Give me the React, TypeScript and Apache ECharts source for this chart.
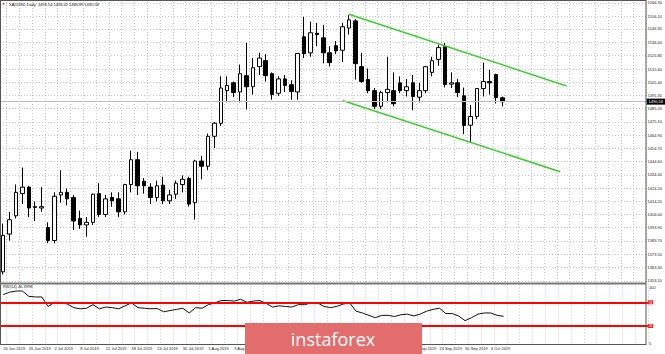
import React, { useEffect, useRef } from "react";
import * as echarts from "echarts";

const dates = [
  "20 Jun 2019", "21 Jun 2019", "24 Jun 2019", "25 Jun 2019", "26 Jun 2019", "27 Jun 2019", "28 Jun 2019",
  "1 Jul 2019", "2 Jul 2019", "3 Jul 2019", "4 Jul 2019", "5 Jul 2019", "8 Jul 2019", "9 Jul 2019",
  "10 Jul 2019", "11 Jul 2019", "12 Jul 2019", "15 Jul 2019", "16 Jul 2019", "17 Jul 2019", "18 Jul 2019",
  "19 Jul 2019", "22 Jul 2019", "23 Jul 2019", "24 Jul 2019", "25 Jul 2019", "26 Jul 2019", "29 Jul 2019",
  "30 Jul 2019", "31 Jul 2019", "1 Aug 2019", "2 Aug 2019", "5 Aug 2019", "6 Aug 2019", "7 Aug 2019",
  "8 Aug 2019", "9 Aug 2019", "12 Aug 2019", "13 Aug 2019", "14 Aug 2019", "15 Aug 2019", "16 Aug 2019",
  "19 Aug 2019", "20 Aug 2019", "21 Aug 2019", "22 Aug 2019", "23 Aug 2019", "26 Aug 2019", "27 Aug 2019",
  "28 Aug 2019", "29 Aug 2019", "30 Aug 2019", "2 Sep 2019", "3 Sep 2019", "4 Sep 2019", "5 Sep 2019",
  "6 Sep 2019", "9 Sep 2019", "10 Sep 2019", "11 Sep 2019", "12 Sep 2019", "13 Sep 2019", "16 Sep 2019",
  "17 Sep 2019", "18 Sep 2019", "19 Sep 2019", "20 Sep 2019", "23 Sep 2019", "24 Sep 2019", "25 Sep 2019",
  "26 Sep 2019", "27 Sep 2019", "30 Sep 2019", "1 Oct 2019", "2 Oct 2019", "3 Oct 2019", "4 Oct 2019",
  "7 Oct 2019", "8 Oct 2019",
];

const opens = [
  1360, 1389, 1403, 1420, 1425, 1410, 1409, 1394, 1384, 1419,
  1421, 1417, 1401, 1396, 1398, 1420, 1404, 1417, 1416, 1406,
  1427, 1446, 1429.5, 1425, 1417, 1426.5, 1414.5, 1419.6, 1427, 1431.7,
  1413, 1445, 1441, 1464, 1474, 1499, 1505, 1498, 1510.5, 1502,
  1517.4, 1522, 1512, 1497, 1508, 1503.6, 1498, 1540.3, 1528, 1543,
  1539.5, 1528, 1533.5, 1530, 1547, 1552.5, 1517.4, 1507.5, 1499, 1487,
  1497.6, 1499, 1505, 1499, 1505, 1494, 1499, 1513, 1523, 1532.7,
  1504, 1505, 1495, 1472.5, 1479.2, 1500.6, 1506, 1511.3, 1493.54,
];
const closes = [
  1388, 1400, 1421, 1425, 1409, 1409.5, 1410, 1384, 1418, 1421,
  1416, 1399, 1396, 1398, 1419.6, 1404, 1416, 1414.5, 1406, 1427,
  1446, 1426, 1426, 1417, 1426, 1414.5, 1419, 1428, 1431, 1412,
  1445, 1441, 1464, 1474, 1501, 1503, 1497.5, 1512, 1502, 1516.6,
  1524, 1510.5, 1496, 1508, 1503, 1498.3, 1527.5, 1527.3, 1543.4, 1542,
  1528, 1520.5, 1529.5, 1548, 1553.3, 1519.7, 1506, 1499, 1487, 1497.6,
  1500, 1489, 1499, 1502, 1494.5, 1499, 1517.4, 1522, 1532, 1503.7,
  1505, 1497.5, 1472.3, 1479.2, 1500.6, 1506, 1505, 1493.7, 1490.58,
];
const lows = [
  1358, 1384, 1401, 1412, 1402, 1399, 1406, 1382, 1382, 1413,
  1411, 1392, 1393, 1387, 1396, 1402, 1402, 1410, 1402, 1404,
  1421, 1419, 1420, 1412, 1414, 1412, 1412, 1416, 1421, 1410,
  1400, 1431, 1438, 1455, 1472, 1490, 1494, 1490, 1484.5, 1496,
  1511, 1506, 1492, 1495, 1498, 1492, 1492, 1524, 1525, 1533,
  1520, 1517.5, 1527, 1521, 1542, 1507.5, 1505, 1497, 1485, 1485,
  1490, 1487, 1497, 1494.5, 1484, 1490, 1497, 1510, 1518, 1501.4,
  1501, 1494, 1465.6, 1459.5, 1477, 1494.5, 1496, 1489.2, 1486.89,
];
const highs = [
  1397, 1406, 1427, 1440, 1426, 1414, 1425, 1398, 1421, 1438,
  1424, 1419, 1407, 1402, 1420, 1428, 1419, 1421, 1421, 1427.5,
  1453, 1452, 1432, 1428, 1430, 1433, 1423, 1430, 1434, 1433,
  1446, 1449, 1466, 1475, 1510, 1510, 1506, 1519, 1535.7, 1524,
  1528, 1527, 1513, 1510, 1511, 1507, 1528, 1555.6, 1552, 1551,
  1549.5, 1533, 1537, 1551, 1557, 1554, 1528, 1516, 1501, 1499,
  1525, 1513, 1510, 1508, 1511, 1505, 1518, 1525, 1534.2, 1535.5,
  1513, 1508, 1501.4, 1488, 1501, 1520.5, 1515, 1512, 1494.42,
];

const rsiValues = [
  83, 87, 89, 89, 80, 79, 79, 63, 70, 70,
  67, 61, 59, 60, 66, 59, 62, 61, 59, 64,
  69, 61, 60, 59, 59.5, 54, 56, 58, 60, 52,
  61, 60, 66, 69, 73, 73, 72, 75, 70, 72,
  73, 68, 62, 64, 63, 62, 66, 66, 69, 69,
  63, 61, 63, 67, 69, 55, 52, 48, 44, 48,
  48, 46, 49, 50, 47, 50, 55, 58, 60, 51,
  51, 47, 39, 44, 50, 52, 52, 48, 46.4,
];

const priceTicks = [
  1566.3, 1556.1, 1546.3, 1536.0, 1525.8, 1515.6, 1505.4, 1495.3, 1485.2, 1475.1, 1464.9,
  1454.7, 1444.6, 1434.4, 1424.2, 1414.2, 1404.0, 1393.9, 1383.7, 1373.5, 1363.3, 1353.1,
];
const rsiTicks = [0, 100];
const rsiLevels = [70, 30];
const channelUpper = [[54, 1557.6], [88, 1502.6]];
const channelLower = [[53, 1491.5], [87, 1436.8]];
const lastPrice = 1490.58;
const futureSlots = 22;
// date labels that sit entirely under the logo (not visible in the reference)
const hiddenLabelFrom = 40;
const hiddenLabelTo = 60;
const titleText = "XAUUSD,Daily  1493.54 1494.42 1486.89 1490.58";
const rsiTitle = "RSI(14) 46.3998";

export default function App() {
  const ref = useRef<HTMLDivElement>(null);

  useEffect(() => {
    if (!ref.current) return;
    const chart = echarts.init(ref.current, undefined, { renderer: "svg" });
    const cats = [...dates, ...Array.from({ length: futureSlots }, (_, k) => `f${k + 1}`)];
    const font = "Liberation Sans";
    const gridLineStyle = { color: "#c4c4c4", type: [1, 2] as number[], width: 1 };
    const gridLeft = -1.6;
    const gridWidth = 649.5;

    const option: any = {
      animation: false,
      backgroundColor: "#ffffff",
      grid: [
        { left: gridLeft, top: 2, width: gridWidth, height: 281 },
        { left: gridLeft, top: 284.5, width: gridWidth, height: 59.3 },
      ],
      xAxis: [
        {
          type: "category",
          gridIndex: 0,
          data: cats,
          boundaryGap: true,
          axisLine: { show: false },
          axisTick: { show: false },
          axisLabel: { show: false },
          splitLine: { show: true, interval: (i: number) => i % 2 === 1, lineStyle: gridLineStyle },
        },
        {
          type: "category",
          gridIndex: 1,
          data: cats,
          boundaryGap: true,
          axisLine: { show: false },
          axisTick: { show: false },
          axisLabel: {
            show: true,
            interval: (i: number) =>
              i % 4 === 0 && i < dates.length && (i < hiddenLabelFrom || i > hiddenLabelTo),
            align: "left",
            fontSize: 4,
            fontFamily: font,
            color: "#222",
            margin: 3,
          },
          splitLine: { show: true, interval: (i: number) => i % 2 === 1, lineStyle: gridLineStyle },
        },
      ],
      yAxis: [
        {
          type: "value",
          gridIndex: 0,
          position: "right",
          min: 1351.45,
          max: 1567.0,
          axisLine: { show: false },
          axisTick: { show: false, customValues: priceTicks },
          axisLabel: {
            customValues: priceTicks,
            formatter: (v: number) => v.toFixed(2),
            fontSize: 4,
            fontFamily: font,
            color: "#222",
            margin: 1,
          },
          splitLine: { show: true, lineStyle: gridLineStyle },
        },
        {
          type: "value",
          gridIndex: 1,
          position: "right",
          min: 0,
          max: 100,
          axisLine: { show: false },
          axisTick: { show: false, customValues: rsiTicks },
          axisLabel: {
            customValues: rsiTicks,
            formatter: (v: number) => (v === 100 ? "{t|100}" : "{b|0}"),
            rich: {
              t: { fontSize: 4, fontFamily: font, color: "#222", padding: [5, 0, 0, 0] },
              b: { fontSize: 4, fontFamily: font, color: "#222", padding: [0, 0, 1, 0] },
            },
            margin: 1,
          },
          splitLine: { show: false },
        },
      ],
      series: [
        {
          type: "candlestick",
          xAxisIndex: 0,
          yAxisIndex: 0,
          barWidth: 4,
          data: opens.map((o, i) => [o, closes[i], lows[i], highs[i]]),
          itemStyle: {
            color: "#ffffff",
            color0: "#000000",
            borderColor: "#000000",
            borderColor0: "#000000",
            borderWidth: 1,
          },
          markLine: {
            silent: true,
            symbol: ["none", "none"],
            data: [{ yAxis: lastPrice }],
            lineStyle: { color: "#bdbdbd", width: 1, type: "solid" },
            label: {
              show: true,
              position: "end",
              formatter: lastPrice.toFixed(2),
              backgroundColor: "#000",
              color: "#fff",
              fontSize: 4,
              fontFamily: font,
              padding: [1, 2],
              distance: 0,
            },
          },
        },
        {
          type: "line",
          xAxisIndex: 0,
          yAxisIndex: 0,
          data: channelUpper,
          symbol: "none",
          lineStyle: { color: "#3ccc32", width: 1.5 },
        },
        {
          type: "line",
          xAxisIndex: 0,
          yAxisIndex: 0,
          data: channelLower,
          symbol: "none",
          lineStyle: { color: "#3ccc32", width: 1.5 },
        },
        {
          type: "line",
          xAxisIndex: 1,
          yAxisIndex: 1,
          data: rsiValues,
          symbol: "none",
          lineStyle: { color: "#111", width: 1 },
          markLine: {
            silent: true,
            symbol: ["none", "none"],
            data: rsiLevels.map((v) => ({ yAxis: v })),
            lineStyle: { color: "#ff0000", width: 2, type: "solid" },
            label: {
              show: true,
              position: "end",
              formatter: "{c}",
              backgroundColor: "#ff2020",
              color: "#fff",
              fontSize: 3,
              fontFamily: font,
              padding: [0.5, 1],
              distance: 0,
            },
          },
        },
      ],
      graphic: [
        { type: "line", shape: { x1: 0.5, y1: 0, x2: 0.5, y2: 345 }, style: { stroke: "#555", lineWidth: 1 }, z: 50 },
        { type: "line", shape: { x1: 0, y1: 0.5, x2: 646, y2: 0.5 }, style: { stroke: "#555", lineWidth: 1 }, z: 50 },
        { type: "line", shape: { x1: 646, y1: 0, x2: 646, y2: 345 }, style: { stroke: "#555", lineWidth: 1 }, z: 50 },
        { type: "line", shape: { x1: 0, y1: 283.5, x2: 646, y2: 283.5 }, style: { stroke: "#777", lineWidth: 2 }, z: 50 },
        { type: "line", shape: { x1: 0, y1: 344.5, x2: 646, y2: 344.5 }, style: { stroke: "#555", lineWidth: 1 }, z: 50 },
        {
          type: "text",
          x: 2,
          y: 4,
          z: 50,
          style: { text: "▼", fontSize: 3, fill: "#000", textVerticalAlign: "middle" },
        },
        {
          type: "text",
          x: 9,
          y: 4,
          z: 50,
          style: { text: titleText, fontSize: 4, fontFamily: font, fill: "#111", textVerticalAlign: "middle" },
        },
        {
          type: "text",
          x: 3,
          y: 286.5,
          z: 50,
          style: { text: rsiTitle, fontSize: 4, fontFamily: font, fill: "#111", textVerticalAlign: "middle" },
        },
        {
          type: "rect",
          shape: { x: 245, y: 323, width: 177, height: 31 },
          style: { fill: "#e36d6d" },
          z: 100,
        },
        {
          type: "text",
          x: 333,
          y: 339,
          z: 101,
          style: {
            text: "instaforex",
            fontSize: 18,
            fontFamily: "Open Sans",
            fill: "#ffffff",
            textAlign: "center",
            textVerticalAlign: "middle",
          },
        },
      ],
    };

    chart.setOption(option);
    return () => chart.dispose();
  }, []);

  return (
    <div
      ref={ref}
      style={{ position: "absolute", left: 0, top: 0, width: 665, height: 354, background: "#fff" }}
    />
  );
}
